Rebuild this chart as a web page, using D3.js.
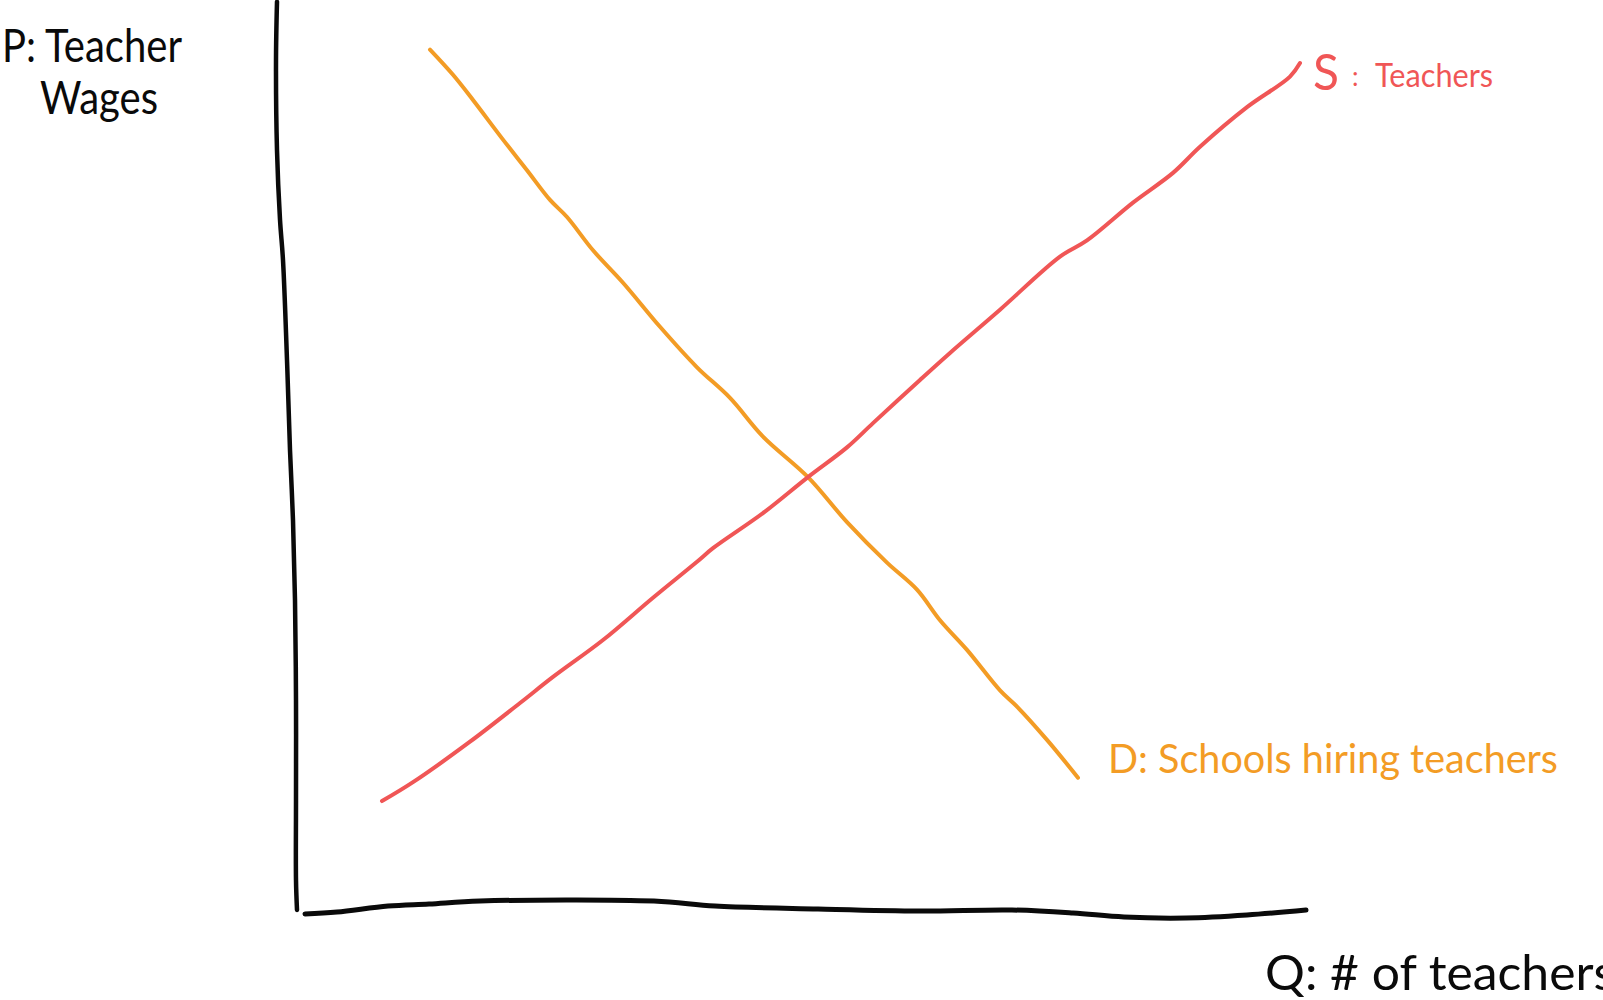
<!DOCTYPE html>
<html>
<head>
<meta charset="utf-8">
<script src="https://cdn.jsdelivr.net/npm/d3@7"></script>
<style>
  html, body { margin: 0; padding: 0; background: #fff; overflow: hidden; }
  svg { display: block; }
</style>
</head>
<body>
<div id="chart"></div>
<script>
// Hand-drawn supply/demand sketch: Q and P on a 0-100 scale
const supplyQ = [8.2, 11.3, 17.0, 22.0, 25.3, 30.3, 35.3, 39.7, 41.3, 46.3, 50.8, 54.7, 57.3, 62.0, 65.0, 70.0, 76.0, 78.7, 83.3, 87.3, 90.0, 94.7, 99.0, 100.0];
const supplyP = [12.1, 14.2, 18.7, 23.0, 25.9, 30.0, 34.7, 38.7, 40.2, 44.1, 48.1, 51.4, 54.1, 58.9, 61.9, 66.7, 72.6, 74.4, 78.6, 81.9, 84.8, 89.2, 92.6, 94.1];

const demandQ = [13.0, 15.3, 17.3, 20.3, 22.7, 25.0, 26.7, 29.3, 32.3, 36.0, 39.7, 43.0, 46.3, 50.8, 54.7, 58.7, 61.7, 64.0, 66.7, 70.0, 71.7, 74.7, 77.8];
const demandP = [95.6, 92.8, 90.0, 85.6, 82.2, 78.9, 77.0, 73.3, 69.7, 64.8, 60.3, 56.9, 52.6, 48.1, 43.1, 38.6, 35.6, 32.2, 28.9, 24.4, 22.6, 18.9, 14.7];

// wobbly hand-drawn axes
const yAxisQ = [-2.3, -2.4, -2.3, -2.0, -1.7, -1.3, -1.0, -0.7, -0.5, -0.4, -0.4, -0.4, -0.3];
const yAxisP = [100.9, 94.4, 84.4, 76.7, 72.2, 61.1, 51.1, 43.3, 34.4, 23.3, 12.2, 3.3, 0];
const xAxisQ = [0.5, 3.7, 8.8, 12.9, 18.0, 35.4, 41.5, 51.8, 62.0, 71.2, 77.3, 82.4, 88.6, 94.7, 100.6];
const xAxisP = [-0.44, -0.22, 0.44, 0.67, 1.0, 1.0, 0.44, 0.11, -0.11, 0, -0.33, -0.78, -0.89, -0.56, 0];

const labels = {
  p: ["P: Teacher", "Wages"],
  q: "Q: # of teachers",
  s: ["S", ":", "Teachers"],
  d: "D: Schools hiring teachers"
};

const W = 1603, H = 1000;
const red = "#f05656", orange = "#f39c25", ink = "#0a0a0a";
const font = "Lato, 'Noto Sans', sans-serif";

const x = d3.scaleLinear().domain([0, 100]).range([300, 1300]);
const y = d3.scaleLinear().domain([0, 100]).range([910, 10]);

const svg = d3.select("#chart").append("svg")
  .attr("width", W)
  .attr("height", H);

const line = d3.line()
  .x(d => x(d[0]))
  .y(d => y(d[1]))
  .curve(d3.curveCatmullRom.alpha(0.5));

const zip = (a, b) => a.map((v, i) => [v, b[i]]);

// axes
svg.append("path")
  .attr("d", line(zip(yAxisQ, yAxisP)))
  .attr("fill", "none")
  .attr("stroke", ink)
  .attr("stroke-width", 4.5)
  .attr("stroke-linecap", "round");

svg.append("path")
  .attr("d", line(zip(xAxisQ, xAxisP)))
  .attr("fill", "none")
  .attr("stroke", ink)
  .attr("stroke-width", 5)
  .attr("stroke-linecap", "round");

// demand + supply curves
svg.append("path")
  .attr("d", line(zip(demandQ, demandP)))
  .attr("fill", "none")
  .attr("stroke", orange)
  .attr("stroke-width", 4)
  .attr("stroke-linecap", "round");

svg.append("path")
  .attr("d", line(zip(supplyQ, supplyP)))
  .attr("fill", "none")
  .attr("stroke", red)
  .attr("stroke-width", 4)
  .attr("stroke-linecap", "round");

// labels
const txt = (s, px, py, size, color, len) => {
  const t = svg.append("text")
    .attr("x", px)
    .attr("y", py)
    .style("font-family", font)
    .style("font-size", size + "px")
    .style("fill", color)
    .text(s);
  if (len) t.attr("textLength", len).attr("lengthAdjust", "spacingAndGlyphs");
  return t;
};

txt(labels.p[0], 2, 62, 46, ink, 180);
txt(labels.p[1], 40, 114, 46, ink, 118);

txt(labels.s[0], 1313, 90, 50, red, 26);
txt(labels.s[1], 1352, 86, 26, red);
txt(labels.s[2], 1375, 87, 32, red, 118);

txt(labels.d, 1108, 773, 40, orange, 450);

txt(labels.q, 1265, 990, 48, ink, 350);
</script>
</body>
</html>
